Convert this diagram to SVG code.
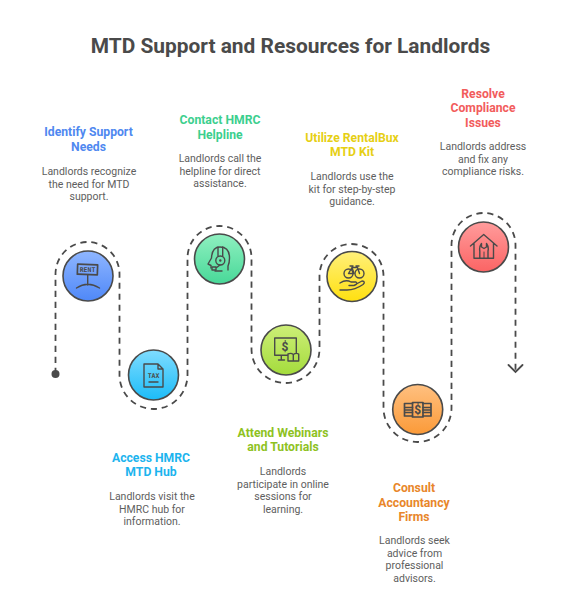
<svg xmlns="http://www.w3.org/2000/svg" width="577" height="600" viewBox="0 0 577 600">
<defs>
<linearGradient id="g1" x1="0" y1="0" x2="0" y2="1"><stop offset="0" stop-color="#8fb6ff"/><stop offset="1" stop-color="#4f88f8"/></linearGradient>
<linearGradient id="g2" x1="0" y1="0" x2="0" y2="1"><stop offset="0" stop-color="#7fdcff"/><stop offset="1" stop-color="#1cbcf8"/></linearGradient>
<linearGradient id="g3" x1="0" y1="0" x2="0" y2="1"><stop offset="0" stop-color="#8ff0c0"/><stop offset="1" stop-color="#48d898"/></linearGradient>
<linearGradient id="g4" x1="0" y1="0" x2="0" y2="1"><stop offset="0" stop-color="#cdee78"/><stop offset="1" stop-color="#a4dc3c"/></linearGradient>
<linearGradient id="g5" x1="0" y1="0" x2="0" y2="1"><stop offset="0" stop-color="#fff07a"/><stop offset="1" stop-color="#ffe010"/></linearGradient>
<linearGradient id="g6" x1="0" y1="0" x2="0" y2="1"><stop offset="0" stop-color="#ffc080"/><stop offset="1" stop-color="#fb9a38"/></linearGradient>
<linearGradient id="g7" x1="0" y1="0" x2="0" y2="1"><stop offset="0" stop-color="#ff9c9c"/><stop offset="1" stop-color="#fb6464"/></linearGradient>
</defs>
<style>
text{font-family:Roboto,"Liberation Sans",sans-serif;text-anchor:middle}
.t{font-size:20.9px;font-weight:700;fill:#4a4a4a}
.h{font-size:12.2px;font-weight:700}
.b{font-size:10.5px;fill:#5e5e5e}
.c{stroke:#4a4a4a;stroke-width:1.6}
.i{fill:none;stroke:#4a4a4a;stroke-width:1.4;stroke-linecap:round;stroke-linejoin:round}
.f{fill:#4a4a4a}
.l{fill:none;stroke:#4a4a4a;stroke-width:1.8}
.m{font-size:6.5px;font-weight:700;fill:#4a4a4a;font-family:"DejaVu Sans Mono",monospace}
.d{font-size:12px;font-weight:700;fill:#4a4a4a}
</style>
<text class="t" x="290.500" y="53">MTD Support and Resources for Landlords</text>
<g id="connectors">
<path class="l" stroke-dasharray="6.2 4.8" d="M55.500 374V274A32 32 0 0 1 119.500 274V375A34 34 0 0 0 187.500 375V258A32 32 0 0 1 251.500 258V349A34 34 0 0 0 319.500 349V276A32 32 0 0 1 383.500 276V408A34 34 0 0 0 451.500 408V245A32 32 0 0 1 515.500 245V371"/>
<circle class="f" cx="55.500" cy="374" r="4"/>
<path class="l" stroke-linecap="round" d="M508.500 365L515.500 372L522.500 365"/>
</g>
<g id="n1"><circle class="c" cx="88" cy="276" r="25" fill="url(#g1)"/>
<rect class="i" style="stroke-width:1.700" x="77.500" y="264.500" width="20" height="10" transform="rotate(2 87 269)"/>
<path class="i" d="M87.700 275V285M76.500 288Q87.700 280.500 99.500 288"/>
<text class="m" x="87.500" y="272">RENT</text>
<text class="h" fill="#4f88f0" x="88.500" y="136">Identify Support</text><text class="h" fill="#4f88f0" x="88.500" y="151">Needs</text>
<text class="b" x="89" y="175">Landlords recognize</text><text class="b" x="89" y="188">the need for MTD</text><text class="b" x="89" y="200">support.</text></g>
<g id="n2"><circle class="c" cx="153.500" cy="375" r="25" fill="url(#g2)"/>
<path class="i" d="M144 364H158L163 369V387H144ZM158 364V369H163M149 382H158"/>
<text class="m" x="153.500" y="378">TAX</text>
<text class="h" fill="#1cb4ee" x="151" y="462">Access HMRC</text><text class="h" fill="#1cb4ee" x="151" y="476">MTD Hub</text>
<text class="b" x="152" y="500">Landlords visit the</text><text class="b" x="152" y="513">HMRC hub for</text><text class="b" x="152" y="525">information.</text></g>
<g id="n3"><circle class="c" cx="219.500" cy="259" r="25" fill="url(#g3)"/>
<path class="i" d="M211.500 258Q212 247 220 247Q229.500 247 229.500 258Q229.500 263 228 266V270M211.500 258L208 264L211 265.500V268M215 271H222"/>
<path class="i" d="M218 247V256M222.700 247V256"/><circle class="i" cx="220.300" cy="260.500" r="4.500"/><circle class="f" cx="220.300" cy="260.500" r="1.200"/><path class="i" d="M212 267H216V270H212ZM216 268L220 265"/>
<text class="h" fill="#3ccf8e" x="220" y="124">Contact HMRC</text><text class="h" fill="#3ccf8e" x="220" y="139">Helpline</text>
<text class="b" x="220" y="162">Landlords call the</text><text class="b" x="220" y="175">helpline for direct</text><text class="b" x="220" y="187">assistance.</text></g>
<g id="n4"><circle class="c" cx="286" cy="350" r="25" fill="url(#g4)"/>
<path class="i" d="M296.300 353V338H274.700V355.300H288M281.300 355.300V360M278.500 360H284.500M288 354Q291 352.500 293.300 354.500Q296 352.500 298.700 354V361H288ZM293.300 354.500V361"/>
<text class="d" x="285" y="350.500">$</text>
<text class="h" fill="#8ec21f" x="283" y="437">Attend Webinars</text><text class="h" fill="#8ec21f" x="283" y="451">and Tutorials</text>
<text class="b" x="283" y="475">Landlords</text><text class="b" x="283" y="488">participate in online</text><text class="b" x="283" y="500">sessions for</text><text class="b" x="283" y="513">learning.</text></g>
<g id="n5"><circle class="c" cx="352" cy="276.500" r="25" fill="url(#g5)"/>
<circle class="i" cx="348.500" cy="273.500" r="4.500"/><circle class="i" cx="359.500" cy="273.500" r="4.500"/>
<path class="i" d="M348.500 273.500L352 267.500H357.500L359.500 273.500M352 267.500L354 273.500H348.500M350 266H353M356 266H359"/>
<path class="i" d="M340 283Q346 279 351 282H356Q358.500 284 354 285.500H349M354.500 285L362 281Q366 281.500 363 284.500Q355 290 347 290H340"/>
<text class="h" fill="#e6cf14" x="352" y="142">Utilize RentalBux</text><text class="h" fill="#e6cf14" x="352" y="156">MTD Kit</text>
<text class="b" x="352" y="180">Landlords use the</text><text class="b" x="352" y="193">kit for step-by-step</text><text class="b" x="352" y="205">guidance.</text></g>
<g id="n6"><circle class="c" cx="417.700" cy="409.500" r="25" fill="url(#g6)"/>
<path class="i" style="stroke-width:1.700" d="M412.500 403.500H404.500V416H412.500M423 403.500H431V416H423M404.500 407.500H412.500M404.500 410H412.500M404.500 412.500H412.500M423 407.500H431M423 410H431M423 412.500H431"/><rect class="i" style="stroke-width:1.700" x="412.500" y="402.500" width="10.500" height="14.500"/>
<text class="d" x="417.700" y="414">$</text>
<text class="h" fill="#e8862a" x="414" y="492">Consult</text><text class="h" fill="#e8862a" x="414" y="507">Accountancy</text><text class="h" fill="#e8862a" x="414" y="521">Firms</text>
<text class="b" x="414.500" y="544">Landlords seek</text><text class="b" x="414.500" y="557">advice from</text><text class="b" x="414.500" y="569">professional</text><text class="b" x="414.500" y="582">advisors.</text></g>
<g id="n7"><circle class="c" cx="483.500" cy="247" r="25" fill="url(#g7)"/>
<path class="i" d="M470.500 246L483.700 234.500L497 246M474 243.500V258.300H493.500V243.500M474 258.300H493.500"/>
<path class="i" d="M479.800 258V251Q479 247 481.500 243.500V247L484 248.500L486.500 247V243.500Q489 247 488 251V258"/>
<path class="i" d="M484 252V258" style="stroke-width:1"/>
<text class="h" fill="#f25c5c" x="483" y="98">Resolve</text><text class="h" fill="#f25c5c" x="483" y="112">Compliance</text><text class="h" fill="#f25c5c" x="483" y="127">Issues</text>
<text class="b" x="483" y="150">Landlords address</text><text class="b" x="483" y="163">and fix any</text><text class="b" x="483" y="175">compliance risks.</text></g>
</svg>
